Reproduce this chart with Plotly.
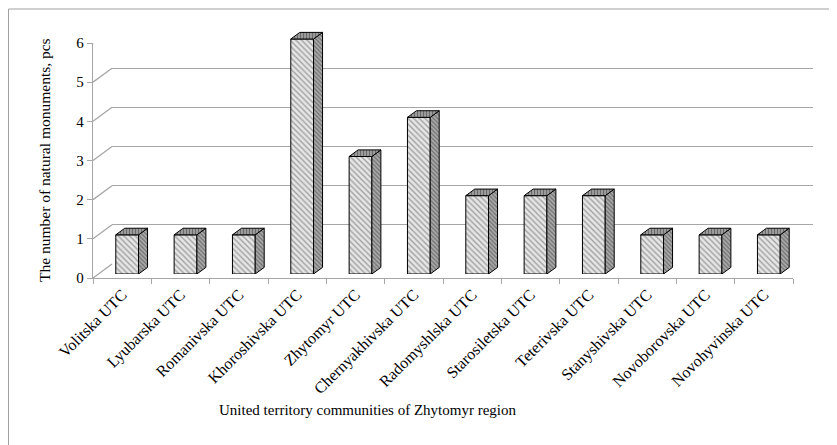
import plotly.graph_objects as go

communities = ["Volitska UTC", "Lyubarska UTC", "Romanivska UTC", "Khoroshivska UTC",
               "Zhytomyr UTC", "Chernyakhivska UTC", "Radomyshlska UTC", "Starosiletska UTC",
               "Teterivska UTC", "Stanyshivska UTC", "Novoborovska UTC", "Novohyvinska UTC"]
monuments = [1, 1, 1, 6, 3, 4, 2, 2, 2, 1, 1, 1]
y_ticks = [0, 1, 2, 3, 4, 5, 6]

# page geometry (px, in window coordinates); the page body adds an 8px offset
OFF = 8
W, H = 837 - OFF, 445 - OFF
PLOT_L, PLOT_R, PLOT_T, PLOT_B = 93, 813, 29, 278
ML, MR, MT, MB = PLOT_L - OFF, W - (PLOT_R - OFF), PLOT_T - OFF, H - (PLOT_B - OFF)
PW, PH = PLOT_R - PLOT_L, PLOT_B - PLOT_T
FRONT_W, FRONT_H = 700, 235       # front plane size
DEPTH = (19, 14)                  # wall depth offset
BAR_SHIFT = (5, 4)                # bar front plane offset
BAR_DEPTH = (9, 6.6)              # bar side depth
BAR_W = 0.39
n = len(communities)
ymax = 6
TOP_PAD = 10                      # room above bars for the top faces (px)


def px(x):
    return (x - PLOT_L) / PW


def py(y):
    return (PLOT_B - y) / PH


ux = n / FRONT_W
uy = ymax / FRONT_H
ddx, ddy = BAR_DEPTH[0] * ux, BAR_DEPTH[1] * uy
centers = [i + 0.5 for i in range(n)]

side_x, side_y, top_x, top_y = [], [], [], []
for c, v in zip(centers, monuments):
    xl, xr = c - BAR_W / 2, c + BAR_W / 2
    side_x += [xr, xr + ddx, xr + ddx, xr, xr, None]
    side_y += [0, ddy, v + ddy, v, 0, None]
    top_x += [xl, xr, xr + ddx, xl + ddx, xl, None]
    top_y += [v, v, v + ddy, v + ddy, v, None]

serif = "Liberation Serif"
grid_col = "#a6a6a6"

fig = go.Figure()

fig.add_trace(go.Bar(
    x=centers, y=monuments, width=BAR_W, xaxis="x3", yaxis="y3",
    marker=dict(color="#e4e4e4", line=dict(color="black", width=1),
                pattern=dict(shape="\\", fgcolor="#5a5a5a", bgcolor="#e6e6e6",
                             size=4, solidity=0.35)),
    showlegend=False, hoverinfo="skip"))

fig.add_trace(go.Scatter(
    x=side_x, y=side_y, xaxis="x3", yaxis="y3", mode="lines", fill="toself",
    line=dict(color="black", width=1), fillcolor="#a0a0a0",
    fillpattern=dict(shape="\\", fgcolor="#333333", bgcolor="#aaaaaa", size=3, solidity=0.4),
    showlegend=False, hoverinfo="skip"))

fig.add_trace(go.Scatter(
    x=top_x, y=top_y, xaxis="x3", yaxis="y3", mode="lines", fill="toself",
    line=dict(color="black", width=1), fillcolor="#909090",
    fillpattern=dict(shape="|", fgcolor="#333333", bgcolor="#a0a0a0", size=3, solidity=0.4),
    showlegend=False, hoverinfo="skip"))

# invisible trace so the back-wall axes are drawn
fig.add_trace(go.Scatter(x=[None], y=[None], xaxis="x2", yaxis="y2", showlegend=False))

shapes = []
for v in y_ticks:
    shapes.append(dict(type="line", xref="x", yref="y", xsizemode="pixel", ysizemode="pixel",
                       xanchor=0, yanchor=v, x0=0, x1=DEPTH[0], y0=0, y1=DEPTH[1],
                       line=dict(color=grid_col, width=1.3), layer="below"))
shapes.append(dict(type="line", xref="x", yref="y", xsizemode="pixel", ysizemode="pixel",
                   xanchor=n, yanchor=0, x0=0, x1=DEPTH[0], y0=0, y1=DEPTH[1],
                   line=dict(color=grid_col, width=1.3), layer="below"))
shapes.append(dict(type="rect", xref="paper", yref="paper",
                   x0=px(OFF + 0.5), x1=px(860), y0=py(470), y1=py(9),
                   line=dict(color="#a0a0a0", width=1)))

bar_top = BAR_SHIFT[1] + FRONT_H + TOP_PAD

fig.update_layout(
    width=W, height=H,
    margin=dict(l=ML, r=MR, t=MT, b=MB, autoexpand=False),
    paper_bgcolor="white", plot_bgcolor="rgba(0,0,0,0)",
    font=dict(family=serif, size=14, color="black"),
    showlegend=False,
    xaxis=dict(domain=[0, FRONT_W / PW], range=[0, n], anchor="y", automargin=False,
               showline=True, linecolor=grid_col, linewidth=1.3, showgrid=False, zeroline=False,
               tickvals=centers, ticktext=communities, tickangle=-45, ticks="",
               tickfont=dict(family=serif, size=16),
               minor=dict(tick0=0, dtick=1, ticks="outside", ticklen=5,
                          tickcolor=grid_col, showgrid=False)),
    yaxis=dict(domain=[0, FRONT_H / PH], range=[0, ymax], anchor="x", automargin=False,
               showline=True, linecolor=grid_col, linewidth=1.3, showgrid=False, zeroline=False,
               tickvals=y_ticks, ticks="outside", ticklen=5, tickcolor=grid_col,
               tickfont=dict(family=serif, size=15)),
    xaxis2=dict(domain=[DEPTH[0] / PW, 1], range=[0, n], anchor="y2", automargin=False,
                showgrid=False, showline=False, zeroline=False, showticklabels=False),
    yaxis2=dict(domain=[DEPTH[1] / PH, (DEPTH[1] + FRONT_H) / PH], range=[0, ymax],
                anchor="x2", automargin=False,
                tickvals=y_ticks, showgrid=True, gridcolor=grid_col, gridwidth=1.3,
                showline=False, zeroline=False, showticklabels=False),
    xaxis3=dict(domain=[BAR_SHIFT[0] / PW, (BAR_SHIFT[0] + FRONT_W) / PW], range=[0, n],
                anchor="y3", visible=False),
    yaxis3=dict(domain=[BAR_SHIFT[1] / PH, bar_top / PH],
                range=[0, ymax * (FRONT_H + TOP_PAD) / FRONT_H],
                anchor="x3", visible=False),
    shapes=shapes,
    annotations=[
        dict(text="The number of natural monuments, pcs", xref="paper", yref="paper",
             x=px(44), y=py(160), xanchor="center", yanchor="middle",
             textangle=-90, showarrow=False, font=dict(family=serif, size=15.5)),
        dict(text="United territory communities of Zhytomyr region", xref="paper", yref="paper",
             x=px(368), y=py(410), xanchor="center", yanchor="middle",
             showarrow=False, font=dict(family=serif, size=15)),
    ],
)

fig.write_html("out.html")
